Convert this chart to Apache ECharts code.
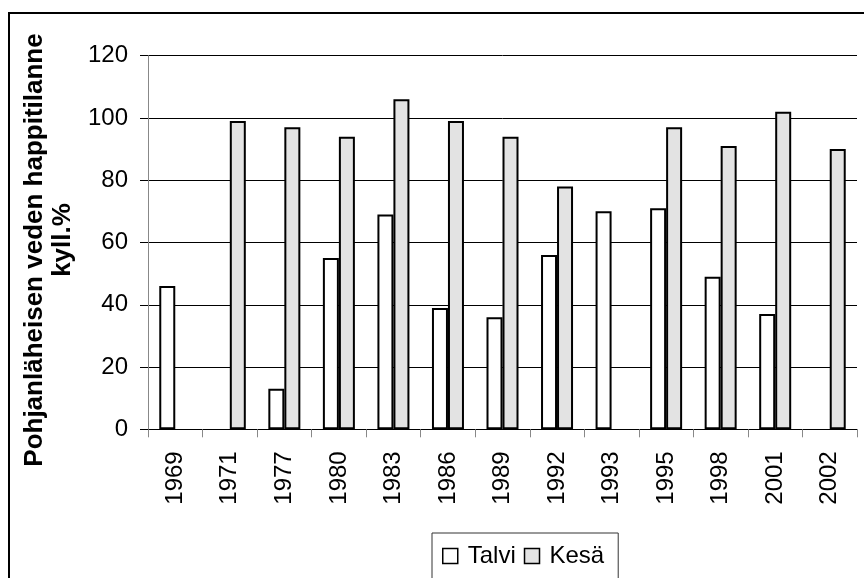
<!DOCTYPE html>
<html>
<head>
<meta charset="utf-8">
<script src="https://cdn.jsdelivr.net/npm/echarts@6/dist/echarts.min.js"></script>
<style>
  html, body { margin: 0; padding: 0; background: #fff; }
  #chart { width: 864px; height: 578px; }
</style>
</head>
<body>
<div id="chart"></div>
<script>
// Bottom-water oxygen saturation, winter vs. summer sampling
const years = ['1969', '1971', '1977', '1980', '1983', '1986', '1989', '1992', '1993', '1995', '1998', '2001', '2002'];
const talvi = [46, null, 13, 55, 69, 39, 36, 56, 70, 71, 49, 37, null];
const kesa  = [null, 99, 97, 94, 106, 99, 94, 78, null, 97, 91, 102, 90];
const yTicks = { min: 0, max: 120, step: 20 };
const titleLine1 = 'Pohjanläheisen veden happitilanne';
const titleLine2 = 'kyll.%';

const FONT = '"Liberation Sans", Arial, sans-serif';

const chart = echarts.init(document.getElementById('chart'), null, { renderer: 'canvas' });

chart.setOption({
  backgroundColor: '#fff',
  animation: false,
  textStyle: { fontFamily: FONT },
  grid: { left: 148, right: 7, top: 55.7, bottom: 148.7, containLabel: false },
  legend: {
    data: ['Talvi', 'Kesä'],
    left: 432,
    top: 533,
    orient: 'horizontal',
    icon: 'rect',
    itemWidth: 15,
    itemHeight: 15,
    itemGap: 8,
    padding: [11, 14, 40, 10],
    borderColor: '#333',
    borderWidth: 1,
    itemStyle: { borderColor: '#000', borderWidth: 1.5 },
    textStyle: { fontSize: 24, color: '#000', fontFamily: FONT, padding: [0, 0, 0, 5] }
  },
  xAxis: {
    type: 'category',
    data: years,
    boundaryGap: true,
    axisLine: { lineStyle: { color: '#000', width: 1 } },
    axisTick: { show: true, length: 8, lineStyle: { color: '#888' }, alignWithLabel: false, interval: 0 },
    axisLabel: { rotate: 90, fontSize: 24, color: '#000', margin: 22, interval: 0, fontFamily: FONT },
    splitLine: { show: false }
  },
  yAxis: {
    type: 'value',
    min: yTicks.min,
    max: yTicks.max,
    interval: yTicks.step,
    axisLine: { show: true, lineStyle: { color: '#888', width: 1 } },
    axisTick: { show: true, inside: false, length: 8, lineStyle: { color: '#000' } },
    axisLabel: { fontSize: 24, color: '#000', margin: 20, fontFamily: FONT },
    splitLine: { show: true, lineStyle: { color: '#000', width: 1 } }
  },
  series: [
    {
      name: 'Talvi',
      type: 'bar',
      data: talvi,
      barWidth: 16,
      barGap: '0%',
      itemStyle: { color: '#ffffff', borderColor: '#000', borderWidth: 2 }
    },
    {
      name: 'Kesä',
      type: 'bar',
      data: kesa,
      barWidth: 16,
      barGap: '0%',
      itemStyle: { color: '#e3e3e3', borderColor: '#000', borderWidth: 2 }
    }
  ],
  graphic: [
    {
      type: 'rect',
      silent: true,
      shape: { x: 9, y: 13, width: 900, height: 620 },
      style: { fill: 'none', stroke: '#000', lineWidth: 2 }
    },
    {
      type: 'text',
      silent: true,
      x: 35, y: 250,
      rotation: Math.PI / 2,
      style: {
        text: titleLine1,
        font: 'bold 26px ' + FONT,
        fill: '#000',
        textAlign: 'center',
        textVerticalAlign: 'middle'
      }
    },
    {
      type: 'text',
      silent: true,
      x: 63, y: 240,
      rotation: Math.PI / 2,
      style: {
        text: titleLine2,
        font: 'bold 26px ' + FONT,
        fill: '#000',
        textAlign: 'center',
        textVerticalAlign: 'middle'
      }
    }
  ]
});
</script>
</body>
</html>
